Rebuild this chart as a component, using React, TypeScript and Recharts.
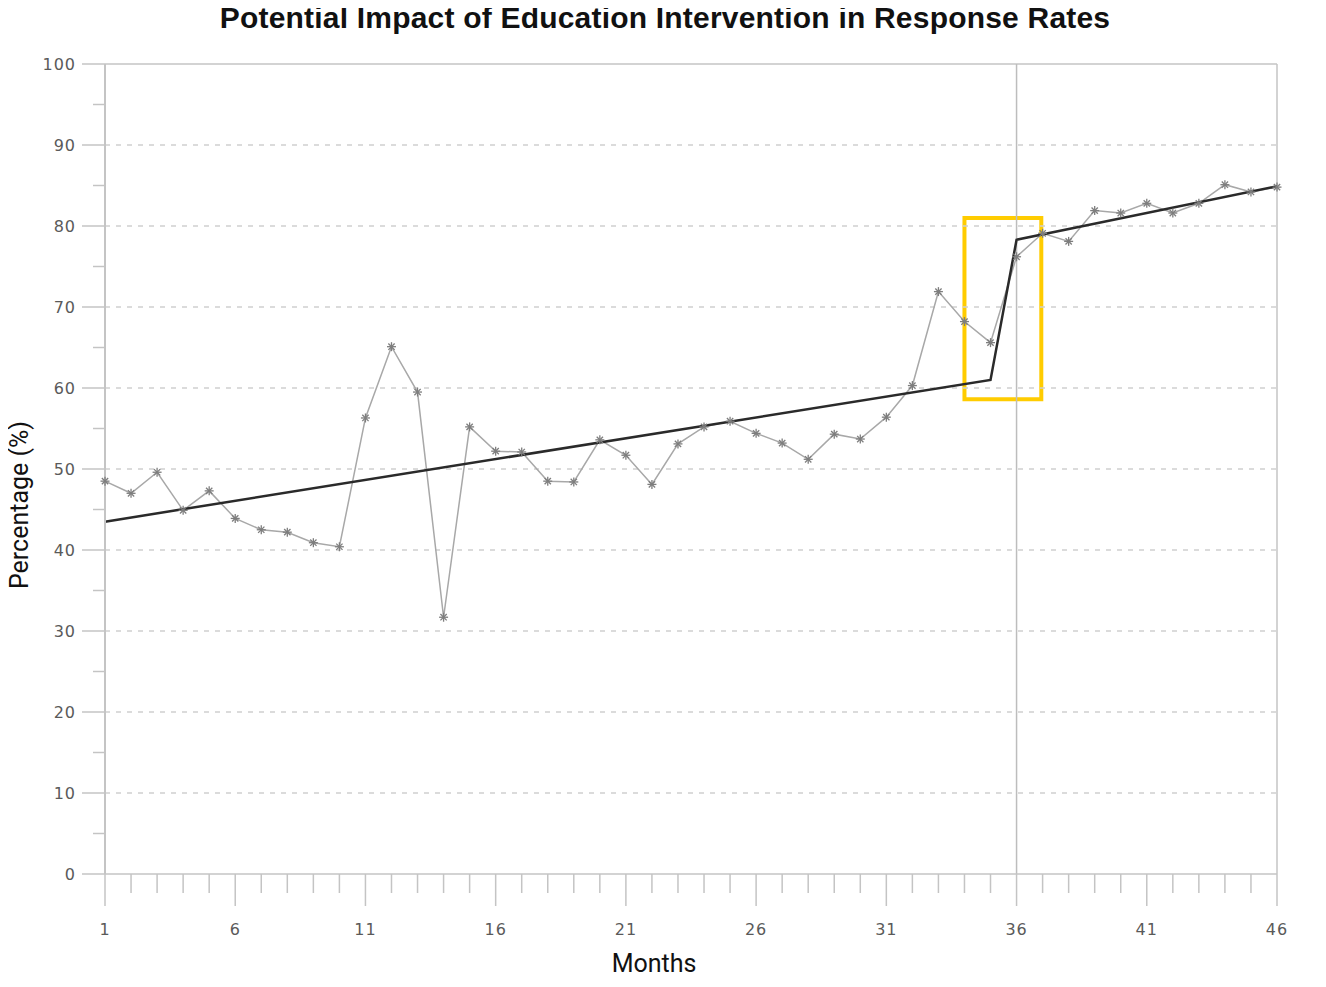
import React from 'react';
import { ComposedChart, Line, XAxis, YAxis, ReferenceLine, ReferenceArea } from 'recharts';

const months = [
  1, 2, 3, 4, 5, 6, 7, 8, 9, 10, 11, 12, 13, 14, 15, 16, 17, 18, 19, 20, 21, 22, 23,
  24, 25, 26, 27, 28, 29, 30, 31, 32, 33, 34, 35, 36, 37, 38, 39, 40, 41, 42, 43, 44, 45, 46,
];

const responseRate = [
  48.5, 47.0, 49.6, 44.9, 47.3, 43.9, 42.5, 42.2, 40.9, 40.4, 56.3, 65.1, 59.5, 31.7, 55.2,
  52.2, 52.1, 48.5, 48.4, 53.6, 51.7, 48.1, 53.1, 55.2, 55.9, 54.4, 53.2, 51.2, 54.3, 53.7,
  56.4, 60.3, 71.9, 68.2, 65.6, 76.2, 79.1, 78.1, 81.9, 81.6, 82.8, 81.6, 82.8, 85.1, 84.2, 84.8,
];

// segmented regression fit, only the break points
const trendMonths = [1, 35, 36, 46];
const trendValues = [43.5, 61.0, 78.3, 84.9];

const yTicks = [0, 5, 10, 15, 20, 25, 30, 35, 40, 45, 50, 55, 60, 65, 70, 75, 80, 85, 90, 95, 100];
const majorMonths = [1, 6, 11, 16, 21, 26, 31, 36, 41, 46];
const gridValues = [10, 20, 30, 40, 50, 60, 70, 80, 90];

const data = months.map((m, i) => {
  const t = trendMonths.indexOf(m);
  return { month: m, rate: responseRate[i], trend: t >= 0 ? trendValues[t] : null };
});

const AXIS = '#c4c4c4';
const TICK_TEXT = '#5a5a5a';

const StarDot = (props: any) => {
  const { cx, cy } = props;
  if (cx == null || cy == null) return null;
  const r = 4.5;
  const d = r * 0.7;
  return (
    <g stroke="#7e7e7e" strokeWidth={1.3}>
      <line x1={cx - r} y1={cy} x2={cx + r} y2={cy} />
      <line x1={cx} y1={cy - r} x2={cx} y2={cy + r} />
      <line x1={cx - d} y1={cy - d} x2={cx + d} y2={cy + d} />
      <line x1={cx - d} y1={cy + d} x2={cx + d} y2={cy - d} />
    </g>
  );
};

const MonthTick = (props: any) => {
  const { x, y, payload } = props;
  const major = majorMonths.includes(payload.value);
  return (
    <g>
      <line x1={x} y1={y} x2={x} y2={y + (major ? 32 : 19)} stroke={AXIS} strokeWidth={1.5} />
      {major && (
        <text
          x={x}
          y={y + 61}
          textAnchor="middle"
          fill={TICK_TEXT}
          fontSize={16}
          letterSpacing={1}
          fontFamily="DejaVu Sans"
        >
          {payload.value}
        </text>
      )}
    </g>
  );
};

const PercentTick = (props: any) => {
  const { x, y, payload } = props;
  const major = payload.value % 10 === 0;
  return (
    <g>
      <line x1={x} y1={y} x2={x - (major ? 23 : 12)} y2={y} stroke={AXIS} strokeWidth={1.5} />
      {major && (
        <text
          x={x - 29}
          y={y + 6}
          textAnchor="end"
          fill={TICK_TEXT}
          fontSize={16}
          letterSpacing={1}
          fontFamily="DejaVu Sans"
        >
          {payload.value}
        </text>
      )}
    </g>
  );
};

export default function App() {
  return (
    <div style={{ position: 'relative', width: 1310, height: 975, background: '#fff' }}>
      <div
        style={{
          position: 'absolute',
          left: 657,
          top: 10,
          transform: 'translate(-50%, -50%)',
          whiteSpace: 'nowrap',
          fontFamily: 'Liberation Sans, Arial, sans-serif',
          fontWeight: 'bold',
          fontSize: 30,
          letterSpacing: 0.2,
          color: '#111',
        }}
      >
        Potential Impact of Education Intervention in Response Rates
      </div>
      <div
        style={{
          position: 'absolute',
          left: 11,
          top: 497,
          transform: 'translate(-50%, -50%) rotate(-90deg)',
          whiteSpace: 'nowrap',
          fontFamily: 'Roboto, sans-serif',
          fontSize: 25,
          color: '#111',
        }}
      >
        Percentage (%)
      </div>
      <div
        style={{
          position: 'absolute',
          left: 646,
          top: 955,
          transform: 'translate(-50%, -50%)',
          whiteSpace: 'nowrap',
          fontFamily: 'Roboto, sans-serif',
          fontSize: 25,
          color: '#111',
        }}
      >
        Months
      </div>
      <ComposedChart
        width={1310}
        height={975}
        data={data}
        margin={{ top: 56, right: 41, left: 0, bottom: 29 }}
      >
        <XAxis
          dataKey="month"
          type="number"
          domain={[1, 46]}
          ticks={months}
          interval={0}
          tickLine={false}
          tickSize={0}
          tickMargin={0}
          height={80}
          axisLine={{ stroke: AXIS, strokeWidth: 1.5 }}
          tick={<MonthTick />}
        />
        <YAxis
          type="number"
          domain={[0, 100]}
          ticks={yTicks}
          interval={0}
          tickLine={false}
          tickSize={0}
          tickMargin={0}
          width={97}
          axisLine={{ stroke: AXIS, strokeWidth: 2 }}
          tick={<PercentTick />}
        />
        {gridValues.map((v) => (
          <ReferenceLine key={v} y={v} stroke="#cfcfcf" strokeWidth={1.5} strokeDasharray="5 6" />
        ))}
        <ReferenceLine y={100} stroke={AXIS} strokeWidth={1.5} />
        <ReferenceLine x={46} stroke={AXIS} strokeWidth={1.5} />
        <ReferenceLine x={36} stroke="#bdbdbd" strokeWidth={1.5} />
        <Line
          type="linear"
          dataKey="rate"
          stroke="#a8a8a8"
          strokeWidth={1.5}
          dot={<StarDot />}
          activeDot={false}
          isAnimationActive={false}
        />
        <Line
          type="linear"
          dataKey="trend"
          stroke="#2a2a2a"
          strokeWidth={2.5}
          dot={false}
          activeDot={false}
          connectNulls
          isAnimationActive={false}
        />
        <ReferenceArea
          x1={34}
          x2={36.95}
          y1={58.6}
          y2={81}
          fill="none"
          stroke="#FFCC00"
          strokeWidth={4}
          ifOverflow="visible"
        />
      </ComposedChart>
    </div>
  );
}
